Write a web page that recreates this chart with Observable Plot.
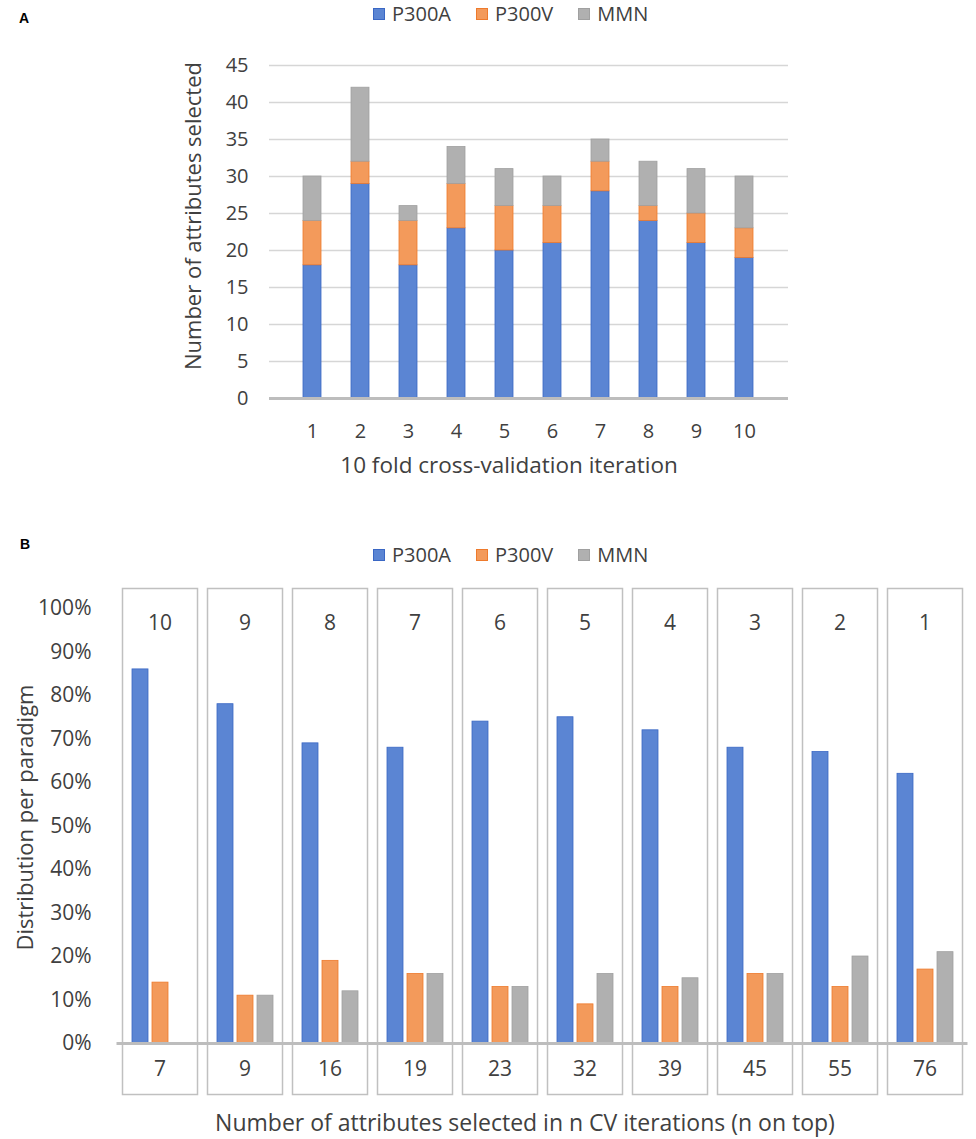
<!DOCTYPE html>
<html>
<head>
<meta charset="utf-8">
<script src="https://cdn.jsdelivr.net/npm/d3@7"></script>
<script src="https://cdn.jsdelivr.net/npm/@observablehq/plot@0.6"></script>
<style>
  html, body { margin: 0; padding: 0; background: #fff; }
  #root { position: relative; width: 976px; height: 1139px; font-family: "Open Sans", sans-serif; color: #404040; overflow: hidden; }
  .abs { position: absolute; }
  .panel-label { font-family: "Liberation Sans", Arial, sans-serif; font-weight: bold; font-size: 14px; color: #000; }
  .legend { display: flex; align-items: center; font-size: 20px; color: #404040; line-height: 1; }
  .legend .item { display: flex; align-items: center; margin-right: 25px; }
  .legend .sw { width: 12px; height: 12px; margin-right: 7px; box-sizing: border-box; border: 1px solid; }
  .xtitle { font-size: 23px; color: #404040; white-space: nowrap; transform: translate(-50%, -50%); }
  svg text { fill: #404040; }
</style>
</head>
<body>
<div id="root"></div>
<script>
// ---------- Data: panel A ----------
const iterations = ["1", "2", "3", "4", "5", "6", "7", "8", "9", "10"];
const seriesNames = ["P300A", "P300V", "MMN"];
const p300aA = [18, 29, 18, 23, 20, 21, 28, 24, 21, 19];
const p300vA = [6, 3, 6, 6, 6, 5, 4, 2, 4, 4];
const mmnA = [6, 10, 2, 5, 5, 4, 3, 6, 6, 7];
const yTicksA = [0, 5, 10, 15, 20, 25, 30, 35, 40, 45];

// ---------- Data: panel B ----------
const nIterations = ["10", "9", "8", "7", "6", "5", "4", "3", "2", "1"];
const attributeCounts = [7, 9, 16, 19, 23, 32, 39, 45, 55, 76];
const p300aB = [86, 78, 69, 68, 74, 75, 72, 68, 67, 62];
const p300vB = [14, 11, 19, 16, 13, 9, 13, 16, 13, 17];
const mmnB = [0, 11, 12, 16, 13, 16, 15, 16, 20, 21];
const yTicksB = [0, 10, 20, 30, 40, 50, 60, 70, 80, 90, 100];

const fills = ["#5b85d3", "#f39a5b", "#b0b0b0"];
const strokes = ["#3a67c4", "#ee7a2c", "#a0a0a0"];

const root = document.getElementById("root");

function legend(top) {
  const lg = document.createElement("div");
  lg.className = "legend abs";
  lg.style.left = "373px";
  lg.style.top = (top - 10) + "px";
  lg.style.height = "20px";
  seriesNames.forEach((s, i) => {
    const it = document.createElement("div");
    it.className = "item";
    const sw = document.createElement("div");
    sw.className = "sw";
    sw.style.background = fills[i];
    sw.style.borderColor = strokes[i];
    const tx = document.createElement("span");
    tx.textContent = s;
    it.appendChild(sw); it.appendChild(tx);
    lg.appendChild(it);
  });
  root.appendChild(lg);
}

function label(txt, left, top) {
  const d = document.createElement("div");
  d.className = "panel-label abs";
  d.textContent = txt;
  d.style.left = left + "px";
  d.style.top = top + "px";
  root.appendChild(d);
}

function strokeBars(svg) {
  svg.querySelectorAll("g[aria-label='bar'] rect").forEach(r => {
    const idx = fills.indexOf(r.getAttribute("fill"));
    if (idx >= 0) r.setAttribute("stroke", strokes[idx]);
  });
}

// ---------- Panel A ----------
label("A", 19, 10);
legend(14);

const dataA = [];
iterations.forEach((it, i) => {
  [p300aA, p300vA, mmnA].forEach((arr, k) => dataA.push({iter: it, series: seriesNames[k], value: arr[i]}));
});

const plotA = Plot.plot({
  width: 976,
  height: 448,
  marginTop: 25,
  marginBottom: 90,
  marginLeft: 269,
  marginRight: 188,
  style: {fontFamily: "Open Sans, sans-serif", fontSize: "20px", color: "#404040", background: "transparent"},
  x: {domain: iterations, padding: 0.615, label: null},
  y: {domain: [0, 45], label: null},
  color: {domain: seriesNames, range: fills},
  marks: [
    Plot.gridY(yTicksA.filter(d => d > 0), {stroke: "#d6d6d6", strokeOpacity: 1, strokeWidth: 1.5}),
    Plot.barY(dataA, {x: "iter", y: "value", fill: "series", strokeWidth: 0.8}),
    Plot.ruleY([0], {stroke: "#bdbdbd", strokeWidth: 3}),
    Plot.axisY({ticks: yTicksA, tickSize: 0, tickPadding: 21, label: null, fontSize: 20}),
    Plot.axisX({tickSize: 0, tickPadding: 25, label: null, fontSize: 20}),
    Plot.text(["Number of attributes selected"], {text: d => d, frameAnchor: "left", textAnchor: "middle", rotate: -90, dx: -76, dy: -16, fontSize: 22}),
    Plot.text(["10 fold cross-validation iteration"], {text: d => d, frameAnchor: "bottom", textAnchor: "middle", dy: 74, dx: -20, fontSize: 22.5})
  ]
});
strokeBars(plotA);
plotA.style.position = "absolute";
plotA.style.left = "0px";
plotA.style.top = "40px";
root.appendChild(plotA);

// ---------- Panel B ----------
label("B", 20, 536);
legend(555);

const dataB = [];
nIterations.forEach((n, i) => {
  [p300aB, p300vB, mmnB].forEach((arr, k) => {
    if (arr[i] > 0) dataB.push({n, series: seriesNames[k], value: arr[i]});
  });
});
const countsB = nIterations.map((n, i) => ({n, count: String(attributeCounts[i])}));

const plotB = Plot.plot({
  width: 976,
  height: 534,
  marginTop: 18,
  marginBottom: 10,
  marginLeft: 114,
  marginRight: 6,
  style: {fontFamily: "Open Sans, sans-serif", fontSize: "20px", color: "#404040", background: "transparent"},
  fx: {domain: nIterations, paddingInner: 0.12, paddingOuter: 0.06, axis: null, label: null},
  x: {domain: seriesNames, paddingInner: 0.21, paddingOuter: 0.4, axis: null, label: null},
  y: {domain: [-11.72, 104.6], label: null, axis: null},
  color: {domain: seriesNames, range: fills},
  marks: [
    Plot.frame({stroke: "#c0c0c0", strokeWidth: 1.5}),
    Plot.barY(dataB, {fx: "n", x: "series", y: "value", fill: "series", strokeWidth: 0.8}),
    Plot.ruleY([0], {stroke: "#bdbdbd", strokeWidth: 3, insetLeft: -5.5, insetRight: -5.5}),
    Plot.axisY({ticks: yTicksB, tickFormat: d => d + "%", tickSize: 0, tickPadding: 31, label: null, fontSize: 21}),
    Plot.text(nIterations, {fx: d => d, text: d => d, frameAnchor: "top", dy: 27, fontSize: 21, fill: "#595959"}),
    Plot.text(countsB, {fx: "n", text: "count", frameAnchor: "bottom", dy: -19, fontSize: 21, fill: "#404040"}),
    Plot.text([nIterations[0]], {fx: d => d, text: () => "Distribution per paradigm", frameAnchor: "left", textAnchor: "middle", rotate: -90, dx: -97, dy: -24, fontSize: 22})
  ]
});
strokeBars(plotB);
plotB.style.position = "absolute";
plotB.style.left = "0px";
plotB.style.top = "570px";
root.appendChild(plotB);

const xtB = document.createElement("div");
xtB.className = "xtitle abs";
xtB.textContent = "Number of attributes selected in n CV iterations (n on top)";
xtB.style.left = "525px";
xtB.style.top = "1122px";
root.appendChild(xtB);
</script>
</body>
</html>
